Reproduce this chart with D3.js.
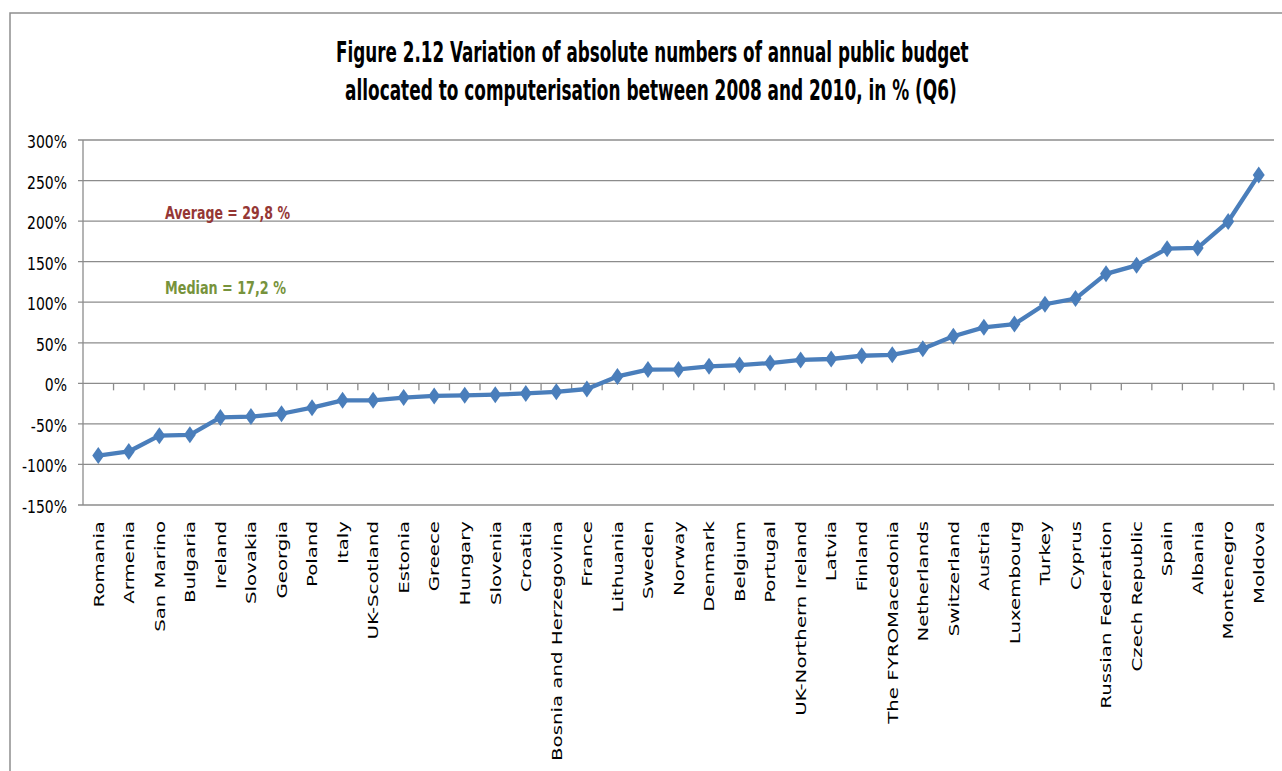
<!DOCTYPE html>
<html>
<head>
<meta charset="utf-8">
<script src="https://cdn.jsdelivr.net/npm/d3@7/dist/d3.min.js"></script>
<style>
  html, body { margin: 0; padding: 0; background: #fff; }
  svg { display: block; }
</style>
</head>
<body>
<script>
// ---------- data ----------
const countries = [
  "Romania", "Armenia", "San Marino", "Bulgaria", "Ireland", "Slovakia", "Georgia",
  "Poland", "Italy", "UK-Scotland", "Estonia", "Greece", "Hungary", "Slovenia",
  "Croatia", "Bosnia and Herzegovina", "France", "Lithuania", "Sweden", "Norway",
  "Denmark", "Belgium", "Portugal", "UK-Northern Ireland", "Latvia", "Finland",
  "The FYROMacedonia", "Netherlands", "Switzerland", "Austria", "Luxembourg",
  "Turkey", "Cyprus", "Russian Federation", "Czech Republic", "Spain", "Albania",
  "Montenegro", "Moldova"
];
const variation = [
  -89, -84, -64.5, -63.5, -42, -41, -37.5,
  -30, -21, -21, -17.5, -15.5, -14.8, -14,
  -12.5, -10.5, -7, 8.5, 17, 17.2,
  21, 22.5, 25, 28.8, 30, 34,
  35.2, 42.5, 58, 69, 73,
  97.5, 104.5, 135, 145.5, 166, 167,
  199.5, 257
];
const yTickValues = [-150, -100, -50, 0, 50, 100, 150, 200, 250, 300];
const titleLines = [
  "Figure 2.12 Variation of absolute numbers of annual public budget",
  "allocated to computerisation between 2008 and 2010, in % (Q6)"
];
const averageLabel = "Average = 29,8 %";
const medianLabel = "Median = 17,2 %";

// ---------- layout ----------
const W = 1282, H = 771;
const plot = { left: 83, right: 1274, top: 140, bottom: 505 };
const gridColor = "#8c8c8c";
const lineColor = "#4a7ebb";
const narrow = "'Liberation Sans Narrow','Arial Narrow','DejaVu Sans Condensed','Liberation Sans',sans-serif";

const svg = d3.select("body").append("svg")
  .attr("width", W).attr("height", H);

svg.append("rect").attr("width", W).attr("height", H).attr("fill", "#fff");

// chart frame (top + left edges visible)
svg.append("path")
  .attr("d", `M10,${H + 5} L10,13 L${W + 5},13`)
  .attr("fill", "none").attr("stroke", "#8e8e8e").attr("stroke-width", 1.5);

const x = d3.scaleBand().domain(countries).range([plot.left, plot.right]).padding(0);
const y = d3.scaleLinear().domain([-150, 300]).range([plot.bottom, plot.top]);

// gridlines
svg.append("g").selectAll("line").data(yTickValues).join("line")
  .attr("x1", plot.left - 5).attr("x2", plot.right)
  .attr("y1", d => y(d)).attr("y2", d => y(d))
  .attr("stroke", gridColor).attr("stroke-width", 1.3);

// y axis line
svg.append("line")
  .attr("x1", plot.left).attr("x2", plot.left)
  .attr("y1", y(300)).attr("y2", y(-150))
  .attr("stroke", gridColor).attr("stroke-width", 1.3);

// x-axis tick marks at category boundaries on the zero line
const boundaries = countries.map((c, i) => i + 1);
svg.append("g").selectAll("line").data(boundaries).join("line")
  .attr("x1", i => plot.left + i * x.step()).attr("x2", i => plot.left + i * x.step())
  .attr("y1", y(0)).attr("y2", y(0) + 7)
  .attr("stroke", gridColor).attr("stroke-width", 1.3);

// helper: stretch text along its direction so a reference string has a target length
function fitLengths(sel, factor) {
  sel.each(function () {
    const w = this.getComputedTextLength();
    d3.select(this).attr("textLength", w * factor).attr("lengthAdjust", "spacingAndGlyphs");
  });
}

// y tick labels
const yLabels = svg.append("g").selectAll("text").data(yTickValues).join("text")
  .attr("x", 67).attr("y", d => y(d)).attr("dy", "0.43em")
  .attr("text-anchor", "end")
  .attr("font-family", narrow).attr("font-size", 18.5).attr("fill", "#000")
  .text(d => d + "%");
{
  const ref = yLabels.filter(d => d === 300).node().getComputedTextLength();
  fitLengths(yLabels, 40 / ref);
}

// category labels (rotated)
const xLabels = svg.append("g").selectAll("text").data(countries).join("text")
  .attr("transform", d => `translate(${x(d) + x.bandwidth() / 2},521) rotate(-90)`)
  .attr("dy", "0.36em")
  .attr("text-anchor", "end")
  .attr("font-family", "'DejaVu Sans',Verdana,sans-serif").attr("font-size", 14.5).attr("fill", "#000")
  .text(d => d);
{
  const ref = xLabels.filter(d => d === "Bosnia and Herzegovina").node().getComputedTextLength();
  fitLengths(xLabels, 240 / ref);
}

// line
const pts = countries.map((c, i) => ({ c, v: variation[i] }));
svg.append("path").datum(pts)
  .attr("d", d3.line().x(d => x(d.c) + x.bandwidth() / 2).y(d => y(d.v)))
  .attr("fill", "none").attr("stroke", lineColor).attr("stroke-width", 4.3)
  .attr("stroke-linejoin", "round");

// diamond markers
svg.append("g").selectAll("path").data(pts).join("path")
  .attr("transform", d => `translate(${x(d.c) + x.bandwidth() / 2},${y(d.v)})`)
  .attr("d", "M0,-8.5 L6,0 L0,8.5 L-6,0 Z")
  .attr("fill", lineColor);

// title (two lines, horizontally scaled by transform to the measured widths)
const titleSpec = [{ x: 336, y: 62, w: 633 }, { x: 345, y: 100, w: 612 }];
const titleG = svg.append("g").selectAll("g").data(titleLines).join("g");
const titleT = titleG.append("text")
  .attr("x", 0).attr("y", 0)
  .attr("font-family", narrow).attr("font-weight", "bold").attr("font-size", 28).attr("fill", "#000")
  .text(d => d);
titleG.each(function (d, i) {
  const w = d3.select(this).select("text").node().getComputedTextLength();
  d3.select(this).attr("transform",
    `translate(${titleSpec[i].x},${titleSpec[i].y}) scale(${titleSpec[i].w / w},1)`);
});

// annotations
svg.append("g").selectAll("text")
  .data([{ t: averageLabel, y: 219, c: "#953735", w: 125 }, { t: medianLabel, y: 293.5, c: "#77933c", w: 121 }])
  .join("text")
  .attr("x", 165).attr("y", d => d.y)
  .attr("font-family", narrow).attr("font-weight", "bold").attr("font-size", 18.5).attr("fill", d => d.c)
  .text(d => d.t)
  .attr("textLength", d => d.w).attr("lengthAdjust", "spacingAndGlyphs");
</script>
</body>
</html>
